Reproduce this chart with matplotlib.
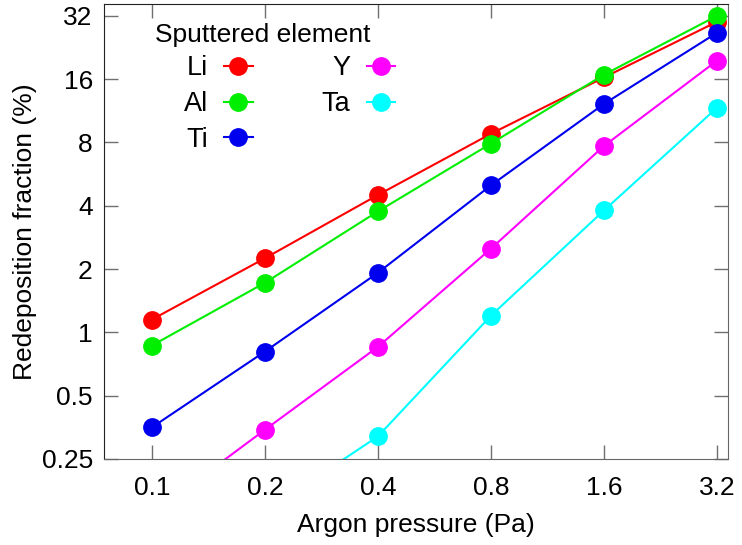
import numpy as np
import matplotlib
matplotlib.use("Agg")
import matplotlib.pyplot as plt

plt.rcParams["font.family"] = ["Liberation Sans", "DejaVu Sans"]

# argon pressure (Pa) and redeposition fraction (%) per sputtered element
pressure = [0.1, 0.2, 0.4, 0.8, 1.6, 3.2]
li = [1.15, 2.25, 4.5, 8.8, 16.3, 30.0]
al = [0.865, 1.72, 3.76, 7.9, 16.8, 32.0]
ti = [0.353, 0.81, 1.92, 5.0, 12.2, 26.6]
y_el = [0.137, 0.344, 0.853, 2.5, 7.7, 19.6]
ta = [np.nan, 0.14, 0.32, 1.2, 3.8, 11.7]

names = ["Li", "Al", "Ti", "Y", "Ta"]
series = [li, al, ti, y_el, ta]
colors = ["#ff0000", "#00ee00", "#0000ee", "#ff00ff", "#00ffff"]

yticks = [0.25, 0.5, 1, 2, 4, 8, 16, 32]
ytick_labels = ["0.25", "0.5", "1", "2", "4", "8", "16", "32"]
xtick_labels = ["0.1", "0.2", "0.4", "0.8", "1.6", "3.2"]

fig = plt.figure(figsize=(7.42, 5.45), dpi=100)
ax = fig.add_axes([0.140, 0.158, 0.841, 0.835])

for name, vals, c in zip(names, series, colors):
    ax.plot(pressure, vals, "-o", color=c, lw=1.5, ms=12.5, label=name)

ax.set_xscale("log", base=2)
ax.set_yscale("log", base=2)
ax.set_xlim(0.0745, 3.42)
ax.set_ylim(0.25, 36.5)
ax.set_xticks(pressure, xtick_labels)
ax.set_yticks(yticks, ytick_labels)
ax.minorticks_off()
ax.tick_params(which="both", direction="in", length=10, width=1, color="#707070",
               top=True, right=True, labelsize=19)
ax.tick_params(axis="y", pad=8)
ax.tick_params(axis="x", pad=12)
for side in ["left", "top"]:
    ax.spines[side].set_color("#222222")
for side in ["right", "bottom"]:
    ax.spines[side].set_color("#666666")

ax.set_xlabel("Argon pressure (Pa)", fontsize=19, labelpad=10)
ax.set_ylabel("Redeposition fraction (%)", fontsize=19, labelpad=3)

ax.text(0.082, 0.916, "Sputtered element", transform=ax.transAxes,
        fontsize=19, va="baseline", ha="left")
ax.legend(loc="upper left", bbox_to_anchor=(0.128, 0.887), ncol=2, frameon=False,
          markerfirst=False, fontsize=19.5, handlelength=1.05, handletextpad=0.6,
          columnspacing=2.55, labelspacing=0.36, borderpad=0, borderaxespad=0)

fig.savefig("out.png", dpi=100)
